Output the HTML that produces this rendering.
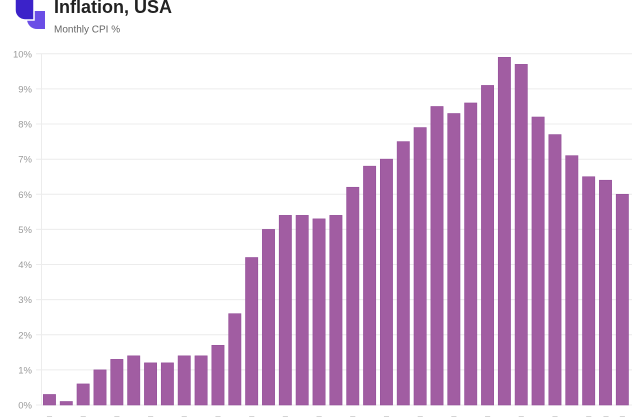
<!DOCTYPE html>
<html><head><meta charset="utf-8"><style>
html,body{margin:0;padding:0;background:#fff;}
body{width:640px;height:417px;overflow:hidden;position:relative;font-family:"Liberation Sans",sans-serif;}
</style></head><body>
<svg width="640" height="417" viewBox="0 0 640 417" xmlns="http://www.w3.org/2000/svg" style="position:absolute;left:0;top:0">
<!-- logo -->
<path d="M27 11 H45 V29 H37 A10 10 0 0 1 27 19 Z" fill="#6b4ee6"/>
<path d="M15 -2 H34 V20 H25 A10 10 0 0 1 15 10 Z" fill="#3b22c9" stroke="#fff" stroke-width="1.5"/>
<text x="54" y="13" font-size="18" font-weight="bold" fill="#222">Inflation, USA</text>
<text x="54" y="32.5" font-size="10" fill="#666">Monthly CPI %</text>
<g stroke="#ececec" stroke-width="1">
<line x1="36" x2="632" y1="405" y2="405"/>
<line x1="36" x2="632" y1="369.9" y2="369.9"/>
<line x1="36" x2="632" y1="334.8" y2="334.8"/>
<line x1="36" x2="632" y1="299.6" y2="299.6"/>
<line x1="36" x2="632" y1="264.5" y2="264.5"/>
<line x1="36" x2="632" y1="229.4" y2="229.4"/>
<line x1="36" x2="632" y1="194.3" y2="194.3"/>
<line x1="36" x2="632" y1="159.2" y2="159.2"/>
<line x1="36" x2="632" y1="124.0" y2="124.0"/>
<line x1="36" x2="632" y1="88.9" y2="88.9"/>
<line x1="36" x2="632" y1="53.8" y2="53.8"/>
<line x1="41.5" x2="41.5" y1="53.8" y2="405"/>
</g>
<g font-size="9.5" fill="#9a9a9a" text-anchor="end">
<text x="32" y="408.5">0%</text>
<text x="32" y="373.4">1%</text>
<text x="32" y="338.3">2%</text>
<text x="32" y="303.1">3%</text>
<text x="32" y="268">4%</text>
<text x="32" y="232.9">5%</text>
<text x="32" y="197.8">6%</text>
<text x="32" y="162.7">7%</text>
<text x="32" y="127.5">8%</text>
<text x="32" y="92.4">9%</text>
<text x="32" y="57.3">10%</text>
</g>
<g fill="#a15da2" stroke="#94509a" stroke-width="0.6">
<rect x="43.3" y="394.46" width="12.3" height="10.54"/>
<rect x="60.15" y="401.49" width="12.3" height="3.51"/>
<rect x="77.0" y="383.93" width="12.3" height="21.07"/>
<rect x="93.85" y="369.88" width="12.3" height="35.12"/>
<rect x="110.7" y="359.34" width="12.3" height="45.66"/>
<rect x="127.55" y="355.83" width="12.3" height="49.17"/>
<rect x="144.4" y="362.86" width="12.3" height="42.14"/>
<rect x="161.25" y="362.86" width="12.3" height="42.14"/>
<rect x="178.1" y="355.83" width="12.3" height="49.17"/>
<rect x="194.95" y="355.83" width="12.3" height="49.17"/>
<rect x="211.8" y="345.3" width="12.3" height="59.7"/>
<rect x="228.65" y="313.69" width="12.3" height="91.31"/>
<rect x="245.5" y="257.5" width="12.3" height="147.5"/>
<rect x="262.35" y="229.4" width="12.3" height="175.6"/>
<rect x="279.2" y="215.35" width="12.3" height="189.65"/>
<rect x="296.05" y="215.35" width="12.3" height="189.65"/>
<rect x="312.9" y="218.86" width="12.3" height="186.14"/>
<rect x="329.75" y="215.35" width="12.3" height="189.65"/>
<rect x="346.6" y="187.26" width="12.3" height="217.74"/>
<rect x="363.45" y="166.18" width="12.3" height="238.82"/>
<rect x="380.3" y="159.16" width="12.3" height="245.84"/>
<rect x="397.15" y="141.6" width="12.3" height="263.4"/>
<rect x="414.0" y="127.55" width="12.3" height="277.45"/>
<rect x="430.85" y="106.48" width="12.3" height="298.52"/>
<rect x="447.7" y="113.5" width="12.3" height="291.5"/>
<rect x="464.55" y="102.97" width="12.3" height="302.03"/>
<rect x="481.4" y="85.41" width="12.3" height="319.59"/>
<rect x="498.25" y="57.31" width="12.3" height="347.69"/>
<rect x="515.1" y="64.34" width="12.3" height="340.66"/>
<rect x="531.95" y="117.02" width="12.3" height="287.98"/>
<rect x="548.8" y="134.58" width="12.3" height="270.42"/>
<rect x="565.65" y="155.65" width="12.3" height="249.35"/>
<rect x="582.5" y="176.72" width="12.3" height="228.28"/>
<rect x="599.35" y="180.23" width="12.3" height="224.77"/>
<rect x="616.2" y="194.28" width="12.3" height="210.72"/>
</g>
<g font-size="9" fill="#aaa" text-anchor="middle">
<text x="49.5" y="423">T</text>
<text x="83.2" y="423">T</text>
<text x="116.9" y="423">T</text>
<text x="150.6" y="423">T</text>
<text x="184.3" y="423">T</text>
<text x="218" y="423">T</text>
<text x="251.7" y="423">T</text>
<text x="285.4" y="423">T</text>
<text x="319.1" y="423">T</text>
<text x="352.8" y="423">T</text>
<text x="386.5" y="423">T</text>
<text x="420.2" y="423">T</text>
<text x="453.9" y="423">T</text>
<text x="487.6" y="423">T</text>
<text x="521.3" y="423">T</text>
<text x="555" y="423">T</text>
<text x="588.7" y="423">T</text>
<text x="606" y="423">T</text>
<text x="622.4" y="423">T</text>
</g>
</svg>
</body></html>
